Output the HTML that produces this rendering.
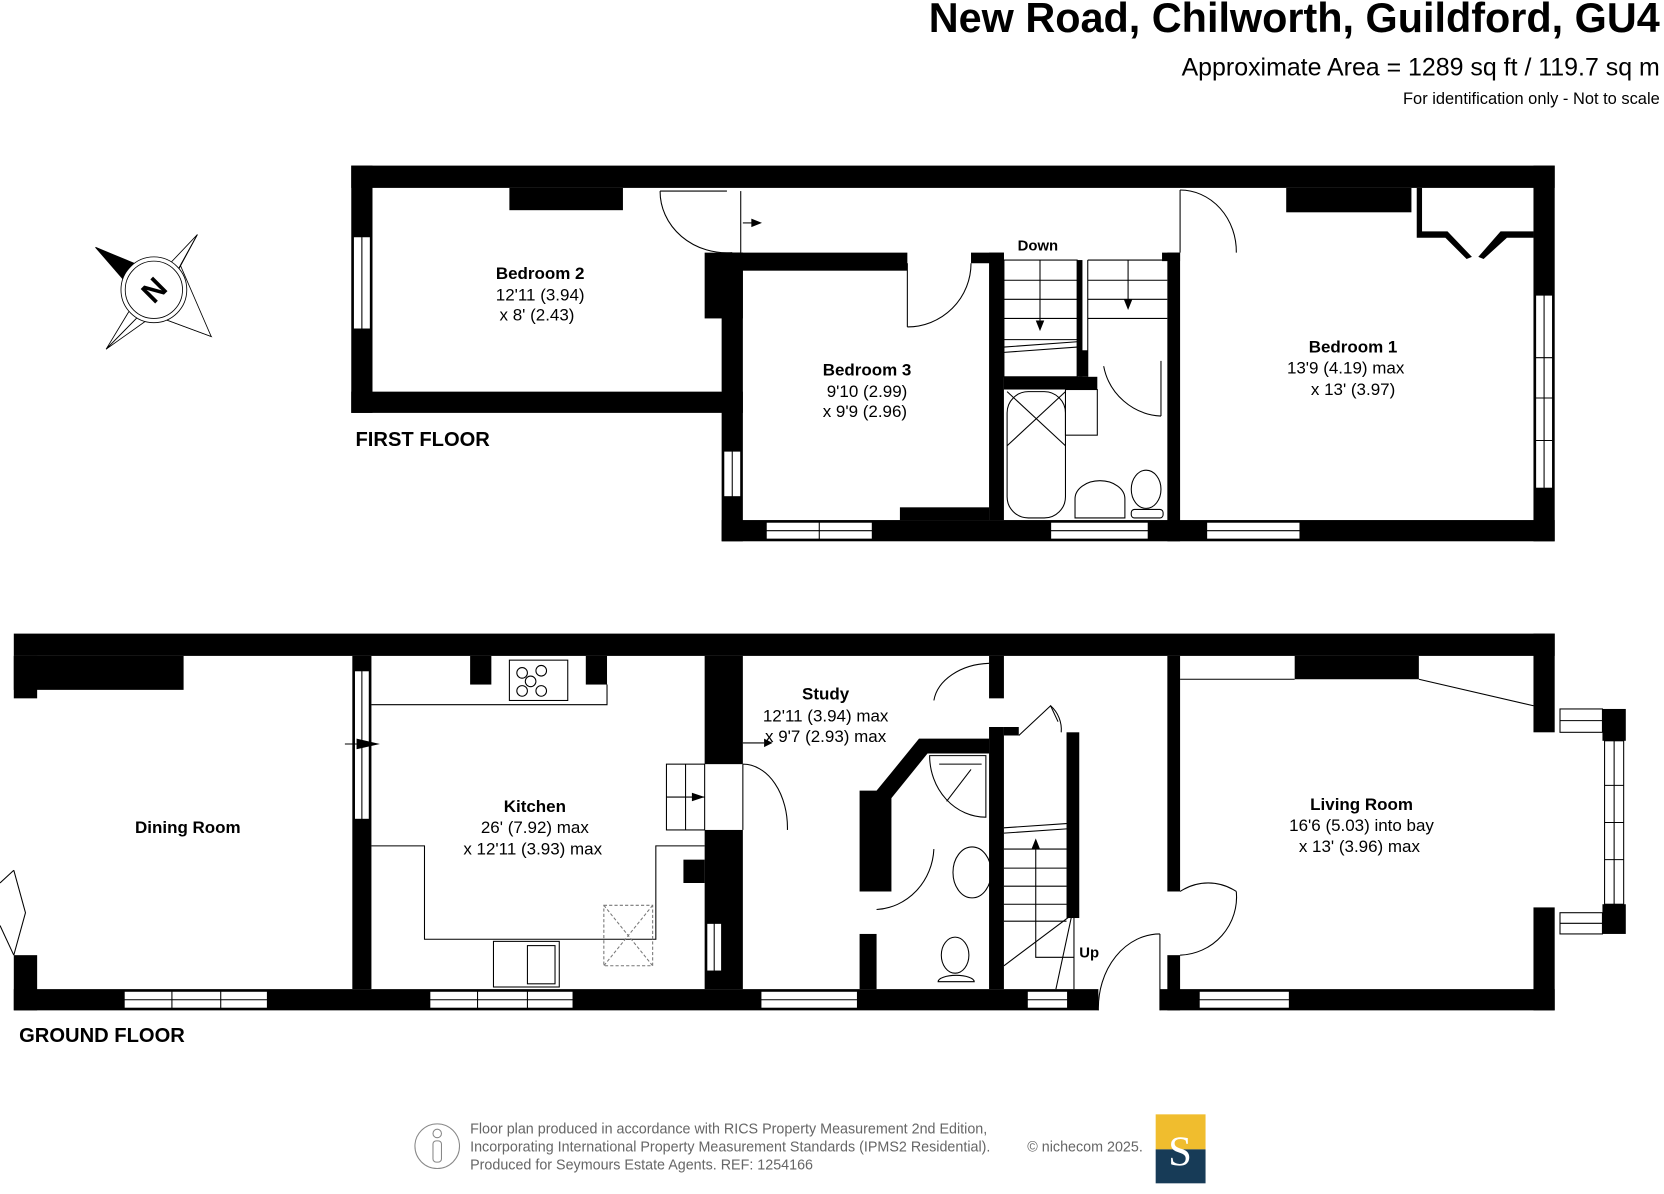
<!DOCTYPE html>
<html><head><meta charset="utf-8"><style>
html,body{margin:0;padding:0;background:#fff;}
svg{display:block;}
text{font-family:"Liberation Sans",Arial,sans-serif;fill:#000;}
.b{font-weight:bold;}
</style></head><body>
<svg width="1664" height="1194" viewBox="0 0 1568 1125" xmlns="http://www.w3.org/2000/svg">
<rect width="1568" height="1125" fill="#fff"/>
<!-- Header -->
<text x="1564" y="30" class="b" font-size="39" text-anchor="end">New Road, Chilworth, Guildford, GU4</text>
<text x="1564" y="71" font-size="23.5" text-anchor="end">Approximate Area = 1289 sq ft / 119.7 sq m</text>
<text x="1564" y="98" font-size="15.5" text-anchor="end">For identification only - Not to scale</text>

<!-- Compass -->
<g stroke="#000" stroke-width="0.8" fill="#fff">
<polygon points="186,221 160,268 100,329 129,281"/>
<polygon points="199,317 160,268 100,329 145,297"/>
<polygon points="186,221 145,297 199,317 170,250"/>
<polygon points="90,233 148,257 135,285" fill="#000"/>
<circle cx="145" cy="273" r="31"/>
<circle cx="145" cy="273" r="27"/>
</g>
<text x="145" y="283" class="b" font-size="28" text-anchor="middle" transform="rotate(-45 145 273)">N</text>

<!-- FIRST FLOOR -->
<g fill="#000">
<rect x="331" y="156" width="1134" height="21"/>
<rect x="331" y="156" width="20" height="233"/>
<rect x="331" y="369" width="369" height="20"/>
<rect x="480" y="177" width="107" height="21"/>
<rect x="664" y="238" width="36" height="62"/>
<rect x="680" y="238" width="175" height="17"/>
<rect x="680" y="238" width="20" height="272"/>
<rect x="680" y="490" width="785" height="20"/>
<rect x="848" y="478" width="84" height="12"/>
<rect x="932" y="238" width="14" height="252"/>
<rect x="915" y="238" width="31" height="10"/>
<rect x="1100" y="238" width="12" height="272"/>
<rect x="1095" y="238" width="17" height="8"/>
<rect x="1015" y="245" width="5" height="110"/>
<rect x="946" y="355" width="88" height="12"/>
<rect x="1017" y="330" width="8" height="25"/>
<rect x="1212" y="177" width="118" height="23"/>
<rect x="1445" y="156" width="20" height="354"/>
<polygon points="1335,177 1340,177 1340,218 1364,218 1387,242 1382,244 1362,224 1335,224"/>
<polygon points="1445,218 1445,224 1420,224 1398,244 1393,242 1414,218"/>
</g>
<g fill="#fff" stroke="#000" stroke-width="1">
<rect x="333" y="223" width="16" height="87"/>
<rect x="682" y="425" width="16" height="43"/>
<rect x="1447" y="278" width="16" height="182"/>
<rect x="722" y="492" width="100" height="16"/>
<rect x="990" y="492" width="92" height="16"/>
<rect x="1137" y="492" width="88" height="16"/>
</g>
<g stroke="#000" stroke-width="1" fill="none">
<line x1="341" y1="223" x2="341" y2="310"/>
<line x1="690" y1="425" x2="690" y2="468"/>
<line x1="1455" y1="278" x2="1455" y2="460"/>
<line x1="1447" y1="337" x2="1463" y2="337"/><line x1="1447" y1="375" x2="1463" y2="375"/><line x1="1447" y1="415" x2="1463" y2="415"/>
<line x1="722" y1="500" x2="822" y2="500"/><line x1="772" y1="492" x2="772" y2="508"/>
<line x1="990" y1="500" x2="1082" y2="500"/><line x1="1137" y1="500" x2="1225" y2="500"/>
<line x1="622" y1="180" x2="685" y2="180"/><path d="M622,180 A63,58 0 0 0 690,238"/>
<line x1="698" y1="180" x2="698" y2="238"/>
<line x1="1112" y1="179" x2="1112" y2="238"/><path d="M1112,179 A53,58 0 0 1 1165,238"/>
<line x1="855" y1="248" x2="855" y2="308"/><path d="M855,308 A60,60 0 0 0 915,248"/>
<path d="M1040,345 A58,58 0 0 0 1094,392"/><line x1="1094" y1="340" x2="1094" y2="392"/>
<rect x="946" y="245" width="69" height="110"/>
<line x1="946" y1="264" x2="1015" y2="264"/><line x1="946" y1="282" x2="1015" y2="282"/><line x1="946" y1="300" x2="1015" y2="300"/><line x1="946" y1="320" x2="1015" y2="320"/>
<line x1="946" y1="327" x2="1015" y2="322"/><line x1="946" y1="332" x2="1015" y2="327"/>
<line x1="980" y1="245" x2="980" y2="310"/>
<line x1="1025" y1="245" x2="1100" y2="245"/>
<line x1="1025" y1="264" x2="1100" y2="264"/><line x1="1025" y1="282" x2="1100" y2="282"/><line x1="1025" y1="300" x2="1100" y2="300"/>
<line x1="1025" y1="245" x2="1025" y2="355"/>
<line x1="1063" y1="245" x2="1063" y2="290"/>
<rect x="949" y="369" width="55" height="119" rx="20"/>
<line x1="949" y1="369" x2="1004" y2="420"/><line x1="1004" y1="369" x2="949" y2="420"/>
<rect x="1004" y="367" width="30" height="43"/>
<path d="M1013,488 L1013,470 A22,16 0 0 1 1060,470 L1060,488 Z"/>
<ellipse cx="1080" cy="461" rx="14" ry="18"/>
<rect x="1066" y="480" width="30" height="8" rx="3"/>
</g>
<polygon points="708,206 718,210 708,214" fill="#000"/><line x1="700" y1="210" x2="710" y2="210" stroke="#000"/>
<polygon points="976,302 980,312 984,302" fill="#000"/>
<polygon points="1059,282 1063,292 1067,282" fill="#000"/>
<text x="509" y="263" class="b" font-size="16" text-anchor="middle">Bedroom 2</text>
<text x="509" y="283" font-size="16" text-anchor="middle">12'11 (3.94)</text>
<text x="506" y="302" font-size="16" text-anchor="middle">x 8' (2.43)</text>
<text x="817" y="354" class="b" font-size="16" text-anchor="middle">Bedroom 3</text>
<text x="817" y="374" font-size="16" text-anchor="middle">9'10 (2.99)</text>
<text x="815" y="393" font-size="16" text-anchor="middle">x 9'9 (2.96)</text>
<text x="978" y="236" class="b" font-size="14" text-anchor="middle">Down</text>
<text x="1275" y="332" class="b" font-size="16" text-anchor="middle">Bedroom 1</text>
<text x="1268" y="352" font-size="16" text-anchor="middle">13'9 (4.19) max</text>
<text x="1275" y="372" font-size="16" text-anchor="middle">x 13' (3.97)</text>
<text x="335" y="420" class="b" font-size="19">FIRST FLOOR</text>

<!-- GROUND FLOOR -->
<g fill="#000">
<rect x="13" y="597" width="1452" height="21"/>
<rect x="13" y="618" width="160" height="32"/>
<rect x="13" y="618" width="22" height="40"/>
<rect x="13" y="900" width="22" height="52"/>
<rect x="13" y="932" width="1022" height="20"/>
<rect x="1093" y="932" width="372" height="20"/>
<rect x="332" y="618" width="18" height="314"/>
<rect x="443" y="618" width="20" height="27"/>
<rect x="552" y="618" width="20" height="27"/>
<rect x="664" y="618" width="36" height="102"/>
<rect x="664" y="782" width="36" height="150"/>
<rect x="644" y="810" width="20" height="22"/>
<rect x="932" y="618" width="14" height="40"/>
<rect x="932" y="685" width="14" height="247"/>
<polygon points="826,745 866,696 932,696 932,710 874,710 840,752 840,840 810,840 810,745"/>
<rect x="810" y="880" width="16" height="52"/>
<rect x="1005" y="690" width="12" height="175"/>
<polygon points="946,685 960,685 960,693 946,693"/>
<rect x="1100" y="618" width="12" height="222"/>
<rect x="1100" y="900" width="12" height="52"/>
<rect x="1220" y="618" width="117" height="22"/>
<rect x="1445" y="597" width="20" height="93"/>
<rect x="1445" y="855" width="20" height="97"/>
<rect x="1510" y="668" width="22" height="30"/>
<rect x="1510" y="852" width="22" height="28"/>
</g>
<g fill="#fff" stroke="#000" stroke-width="1">
<rect x="334" y="632" width="14" height="140"/>
<rect x="666" y="870" width="14" height="45"/>
<rect x="1512" y="698" width="18" height="154"/>
<rect x="1470" y="668" width="40" height="22"/>
<rect x="1470" y="860" width="40" height="20"/>
<rect x="117" y="934" width="135" height="16"/>
<rect x="405" y="934" width="135" height="16"/>
<rect x="717" y="934" width="91" height="16"/>
<rect x="968" y="934" width="38" height="16"/>
<rect x="1130" y="934" width="85" height="16"/>
</g>
<g stroke="#000" stroke-width="1" fill="none">
<line x1="341" y1="632" x2="341" y2="772"/>
<line x1="1521" y1="698" x2="1521" y2="852"/>
<line x1="1512" y1="740" x2="1530" y2="740"/><line x1="1512" y1="775" x2="1530" y2="775"/><line x1="1512" y1="810" x2="1530" y2="810"/>
<line x1="1470" y1="679" x2="1510" y2="679"/><line x1="1470" y1="870" x2="1510" y2="870"/>
<line x1="117" y1="942" x2="252" y2="942"/><line x1="162" y1="934" x2="162" y2="950"/><line x1="208" y1="934" x2="208" y2="950"/>
<line x1="405" y1="942" x2="540" y2="942"/><line x1="450" y1="934" x2="450" y2="950"/><line x1="497" y1="934" x2="497" y2="950"/>
<line x1="717" y1="942" x2="808" y2="942"/><line x1="968" y1="942" x2="1006" y2="942"/><line x1="1130" y1="942" x2="1215" y2="942"/>
<line x1="673" y1="870" x2="673" y2="915"/>
<polyline points="13,820 0,832"/><polyline points="0,872 13,900"/><polyline points="13,820 24,860 13,900"/>
<polyline points="350,664 572,664 572,645"/>
<rect x="480" y="622" width="55" height="38"/>
<circle cx="492" cy="634" r="5"/><circle cx="510" cy="632" r="5"/><circle cx="500" cy="642" r="5"/><circle cx="492" cy="651" r="5"/><circle cx="510" cy="651" r="5"/>
<polyline points="350,797 400,797 400,885 618,885 618,797 664,797"/>
<rect x="465" y="887" width="62" height="43"/>
<rect x="497" y="891" width="26" height="36"/>
<g stroke="#777" stroke-dasharray="3,2">
<rect x="569" y="853" width="46" height="57"/>
<line x1="569" y1="853" x2="615" y2="910"/><line x1="615" y1="853" x2="569" y2="910"/>
</g>
<rect x="628" y="720" width="36" height="62"/><line x1="646" y1="720" x2="646" y2="782"/><line x1="628" y1="751" x2="664" y2="751"/>
<line x1="700" y1="720" x2="700" y2="782"/><path d="M700,720 A42,60 0 0 1 742,782"/>
<path d="M880,660 A55,40 0 0 1 932,625"/>
<path d="M826,857 A57,60 0 0 0 880,800"/>
<path d="M960,693 L990,665 L997,680"/><path d="M990,665 A30,30 0 0 1 1000,690"/>
<path d="M1112,840 A53,60 0 0 1 1165,840"/><path d="M1165,840 A55,55 0 0 1 1112,900"/>
<path d="M1035,952 A58,70 0 0 1 1093,880"/><line x1="1093" y1="880" x2="1093" y2="952"/>
<path d="M876,712 L929,712 L929,770 A53,58 0 0 1 876,712 Z"/>
<line x1="885" y1="720" x2="925" y2="720"/><line x1="915" y1="725" x2="892" y2="755"/>
<ellipse cx="916" cy="822" rx="18" ry="24"/>
<ellipse cx="900" cy="900" rx="13" ry="17"/>
<path d="M884,925 A17,6 0 0 1 918,925 Z"/>
<line x1="946" y1="780" x2="1005" y2="776"/><line x1="946" y1="785" x2="1005" y2="781"/>
<line x1="946" y1="800" x2="1005" y2="800"/><line x1="946" y1="818" x2="1005" y2="818"/><line x1="946" y1="835" x2="1005" y2="835"/><line x1="946" y1="852" x2="1005" y2="852"/><line x1="946" y1="868" x2="1005" y2="868"/>
<polyline points="976,800 976,902 1012,902"/>
<line x1="946" y1="910" x2="1010" y2="862"/><line x1="995" y1="932" x2="1010" y2="862"/>
<line x1="1012" y1="862" x2="1012" y2="932"/>
<line x1="1112" y1="640" x2="1220" y2="640"/>
<line x1="1337" y1="640" x2="1445" y2="665"/>
</g>
<polygon points="728,700 720,696 720,704" fill="#000"/><line x1="700" y1="700" x2="720" y2="700" stroke="#000"/>
<polygon points="336,696 358,701 336,706" fill="#000"/><line x1="325" y1="701" x2="340" y2="701" stroke="#000"/>
<polygon points="652,747 664,751 652,755" fill="#000"/>
<polygon points="972,800 976,790 980,800" fill="#000"/>
<text x="177" y="785" class="b" font-size="16" text-anchor="middle">Dining Room</text>
<text x="504" y="765" class="b" font-size="16" text-anchor="middle">Kitchen</text>
<text x="504" y="785" font-size="16" text-anchor="middle">26' (7.92) max</text>
<text x="502" y="805" font-size="16" text-anchor="middle">x 12'11 (3.93) max</text>
<text x="778" y="659" class="b" font-size="16" text-anchor="middle">Study</text>
<text x="778" y="680" font-size="16" text-anchor="middle">12'11 (3.94) max</text>
<text x="778" y="699" font-size="16" text-anchor="middle">x 9'7 (2.93) max</text>
<text x="1283" y="763" class="b" font-size="16" text-anchor="middle">Living Room</text>
<text x="1283" y="783" font-size="16" text-anchor="middle">16'6 (5.03) into bay</text>
<text x="1281" y="803" font-size="16" text-anchor="middle">x 13' (3.96) max</text>
<text x="1017" y="902" class="b" font-size="14">Up</text>
<text x="18" y="982" class="b" font-size="19">GROUND FLOOR</text>

<!-- Footer -->
<circle cx="412" cy="1080" r="21" fill="none" stroke="#888" stroke-width="1"/>
<circle cx="412" cy="1068" r="4" fill="none" stroke="#888"/>
<rect x="408" y="1075" width="8" height="20" rx="3" fill="none" stroke="#888"/>
<text x="443" y="1068" font-size="13.5" style="fill:#666">Floor plan produced in accordance with RICS Property Measurement 2nd Edition,</text>
<text x="443" y="1085" font-size="13.5" style="fill:#666">Incorporating International Property Measurement Standards (IPMS2 Residential).</text>
<text x="968" y="1085" font-size="13.5" style="fill:#666">© nichecom 2025.</text>
<text x="443" y="1102" font-size="13.5" style="fill:#666">Produced for Seymours Estate Agents.   REF: 1254166</text>
<rect x="1089" y="1050" width="47" height="33" fill="#f0bd2e"/>
<rect x="1089" y="1083" width="47" height="32" fill="#173b57"/>
<text x="1112" y="1098" font-size="40" text-anchor="middle" style="fill:#fff;font-family:'Liberation Serif',serif">S</text>
</svg>
</body></html>
